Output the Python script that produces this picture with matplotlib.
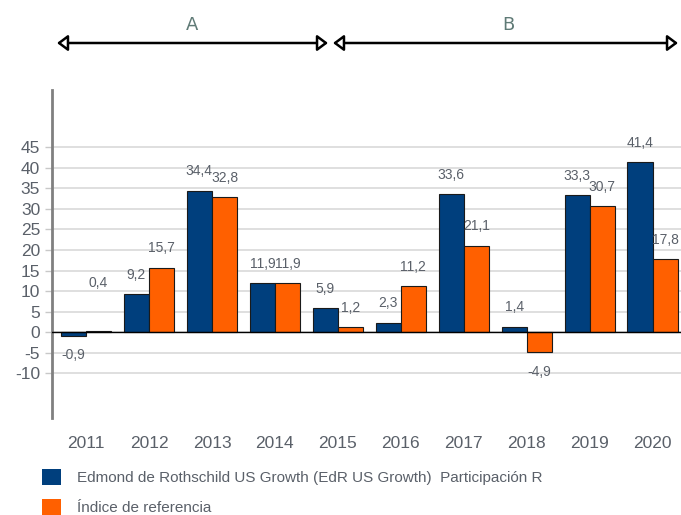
import numpy as np
import matplotlib
matplotlib.use("Agg")
import matplotlib.pyplot as plt
from matplotlib.patches import Patch

plt.rcParams['font.family'] = ['Liberation Sans', 'DejaVu Sans']

years = ['2011', '2012', '2013', '2014', '2015', '2016', '2017', '2018', '2019', '2020']
fondo = [-0.9, 9.2, 34.4, 11.9, 5.9, 2.3, 33.6, 1.4, 33.3, 41.4]
indice = [0.4, 15.7, 32.8, 11.9, 1.2, 11.2, 21.1, -4.9, 30.7, 17.8]
yticks = [45, 40, 35, 30, 25, 20, 15, 10, 5, 0, -5, -10]
legend_names = ['Edmond de Rothschild US Growth (EdR US Growth)  Participación R',
                'Índice de referencia']

blue = '#003f7d'
orange = '#ff6000'
grey = '#5a6069'

fig = plt.figure(figsize=(6.81, 5.15), dpi=100)
ax = fig.add_axes([0.0764, 0.188, 0.9236, 0.637])

x = np.arange(len(years))
w = 0.4
b1 = ax.bar(x - w / 2, fondo, w, color=blue, edgecolor='#1a1a1a', linewidth=0.8, zorder=3)
b2 = ax.bar(x + w / 2, indice, w, color=orange, edgecolor='#1a1a1a', linewidth=0.8, zorder=3)

def fmt(v):
    return ('%.1f' % v).replace('.', ',')

for bars, vals in ((b1, fondo), (b2, indice)):
    for r, v in zip(bars, vals):
        off = 14 if v >= 0 else -14
        if v == 0.4:
            off = 34
        ax.annotate(fmt(v), (r.get_x() + r.get_width() / 2, v),
                    xytext=(0, off), textcoords='offset points',
                    ha='center', va='center', fontsize=10, color=grey)

ax.set_xlim(-0.54, 9.45)
ax.set_ylim(-20.9, 58.9)
ax.set_yticks(yticks)
ax.set_yticklabels([str(t) for t in yticks])
ax.set_xticks(x)
ax.set_xticklabels(years)
ax.grid(axis='y', color='#d9d9d9', linewidth=1.2, zorder=0)
ax.axhline(0, color='black', linewidth=1, zorder=4)
ax.tick_params(axis='y', labelsize=12.5, colors='#c8c8c8', labelcolor=grey, length=5, width=1)
ax.tick_params(axis='x', labelsize=12.5, labelcolor=grey, length=0, pad=13)
for s in ['top', 'right', 'bottom']:
    ax.spines[s].set_visible(False)
ax.spines['left'].set_color('#808080')
ax.spines['left'].set_linewidth(2)

# encabezado A / B
arrow = dict(arrowstyle='<|-|>,head_length=0.4,head_width=0.3',
             edgecolor='black', facecolor='white', lw=1.8, mutation_scale=16,
             shrinkA=0, shrinkB=0)
ax.annotate('', xy=(57 / 681, 1 - 43 / 515), xytext=(328 / 681, 1 - 43 / 515),
            xycoords='figure fraction', textcoords='figure fraction',
            arrowprops=arrow)
ax.annotate('', xy=(333 / 681, 1 - 43 / 515), xytext=(678 / 681, 1 - 43 / 515),
            xycoords='figure fraction', textcoords='figure fraction',
            arrowprops=arrow)
for lab, px in (('A', 192), ('B', 508)):
    fig.text(px / 681, 1 - 25 / 515, lab, ha='center', va='center', fontsize=13,
             color='#5f7a76', family=['Liberation Sans Narrow', 'DejaVu Sans'])

handles = [Patch(facecolor=blue), Patch(facecolor=orange)]
fig.legend(handles, legend_names, loc='upper left', bbox_to_anchor=(0.062, 0.09),
           frameon=False, fontsize=11, handlelength=1.25, handleheight=1.25,
           labelcolor=grey, labelspacing=0.9, handletextpad=1.0, borderaxespad=0,
           borderpad=0)

fig.savefig('out.png', dpi=100)
